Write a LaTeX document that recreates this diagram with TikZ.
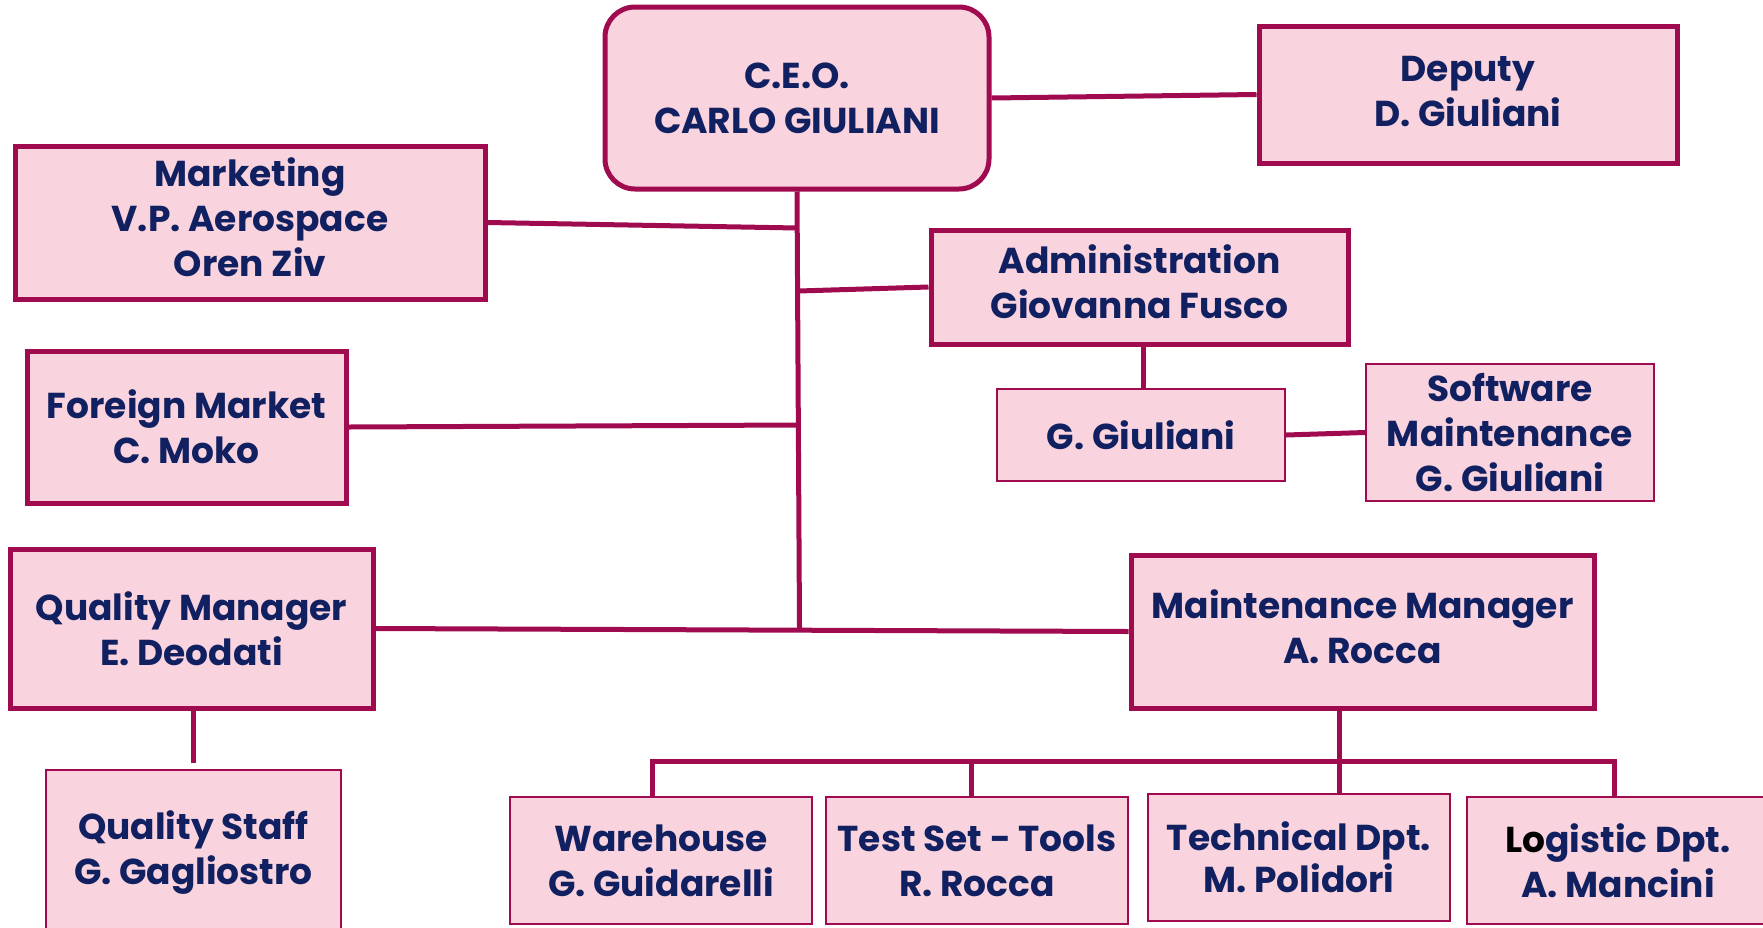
\documentclass[tikz,border=0pt]{standalone}
\usepackage{fontspec}
\setmainfont{Poppins}
\definecolor{bord}{RGB}{160,10,78}
\definecolor{pinkfill}{RGB}{249,211,221}
\definecolor{navy}{RGB}{16,32,96}
\newcommand{\uptext}[2]{\raisebox{#1}{\begin{tabular}{@{}c@{}}#2\end{tabular}}}
\begin{document}
\begin{tikzpicture}[x=1pt,y=-1pt,
  base/.style={draw=bord,fill=pinkfill,text=navy,align=center,inner sep=0pt,
    font=\fontsize{36}{45}\selectfont\bfseries},
  thickbox/.style={base,line width=5pt},
  thinbox/.style={base,line width=2pt},
  conn/.style={draw=bord,line width=5pt}]
\useasboundingbox (0,0) rectangle (1763,927);
% nodes
\node[thickbox,rounded corners=30pt,minimum width=384pt,minimum height=182pt] (ceo) at (797,98) {C.E.O.\\CARLO GIULIANI};
\node[thickbox,minimum width=418pt,minimum height=137pt] (dep) at (1468,94.5) {\uptext{5pt}{Deputy\\D. Giuliani}};
\node[thickbox,minimum width=470pt,minimum height=153pt] (mkt) at (250,222.5) {\uptext{5pt}{Marketing\\V.P. Aerospace\\Oren Ziv}};
\node[thickbox,minimum width=417pt,minimum height=114pt] (adm) at (1139.5,287) {\uptext{6pt}{Administration\\Giovanna Fusco}};
\node[thickbox,minimum width=319pt,minimum height=152pt] (for) at (186.5,427) {Foreign Market\\C. Moko};
\node[thinbox,minimum width=288pt,minimum height=92pt] (gg) at (1141,435) {G. Giuliani};
\node[thinbox,minimum width=288pt,minimum height=137pt] (sw) at (1510,432.5) {Software\\Maintenance\\G. Giuliani};
\node[thickbox,minimum width=363pt,minimum height=159pt] (qm) at (191.5,628.5) {Quality Manager\\E. Deodati};
\node[thinbox,minimum width=295pt,minimum height=166pt] (qs) at (193.5,853) {Quality Staff\\G. Gagliostro};
\node[thickbox,minimum width=463pt,minimum height=153pt] (mm) at (1362.5,631.5) {\uptext{5pt}{Maintenance Manager\\A. Rocca}};
\node[thinbox,minimum width=302pt,minimum height=127pt] (wh) at (661,860.5) {Warehouse\\G. Guidarelli};
\node[thinbox,minimum width=302pt,minimum height=127pt] (ts) at (977,860.5) {Test Set - Tools\\R. Rocca};
\node[thinbox,minimum width=302pt,minimum height=127pt] (tech) at (1299,857.5) {Technical Dpt.\\[-3pt]M. Polidori};
\node[thinbox,minimum width=303pt,minimum height=127pt] (log) at (1618,860.5) {{\color{black}Lo}gistic Dpt.\\A. Mancini};
% helper coordinates
\coordinate (tb) at (799.5,628);
\coordinate (mktj) at (797.5,228);
\coordinate (admj) at (798.5,291);
\coordinate (forj) at (798.5,425);
\coordinate (xg) at (1143,0);
\coordinate (xq) at (193,0);
\coordinate (qsj) at (193,763);
\coordinate (bus) at (0,761);
\coordinate (xw) at (652,0);
\coordinate (xt) at (971,0);
\coordinate (xm) at (1339,0);
\coordinate (xl) at (1614,0);
% connectors
\draw[conn] (ceo.east) -- (dep.west);
\draw[conn] (ceo.south) -- (tb);
\draw[conn] (mkt.east) -- (mktj);
\draw[conn] (admj) -- (adm.west);
\draw[conn] (for.east) -- (forj);
\draw[conn] (qm.east) -- (mm.west);
\draw[conn] (adm.south -| xg) -- (gg.north -| xg);
\draw[conn] (gg.east) -- (sw.west);
\draw[conn] (qm.south -| xq) -- (qsj);
\draw[conn] (mm.south -| xm) -- (tech.north -| xm);
\draw[conn] (wh.north -| xw) -- (xw |- bus) -- (xl |- bus) -- (log.north -| xl);
\draw[conn] (xt |- bus) -- (ts.north -| xt);
\end{tikzpicture}
\end{document}
